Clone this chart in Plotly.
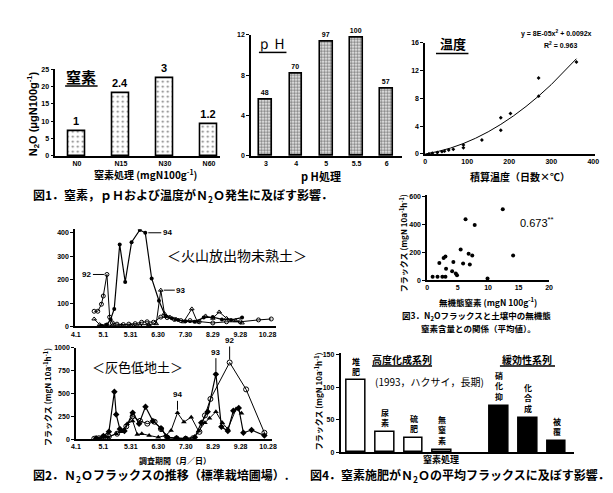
import plotly.graph_objects as go

W, H = 613, 493
def px(x): return x / W
def py(y): return 1 - y / H

JP = "Noto Sans CJK JP"
NUM = "Liberation Sans"

# ---------------- data ----------------
# Fig1 nitrogen
n_cats = ["N0", "N15", "N30", "N60"]
n_vals = [7.2, 18.0, 22.5, 9.2]
n_labels = ["1", "2.4", "3", "1.2"]
# Fig1 pH
ph_cats = ["3", "4", "5", "5.5", "6"]
ph_vals = [5.6, 8.1, 11.3, 11.7, 6.7]
ph_labels = ["48", "70", "97", "100", "57"]
# Fig1 temperature
temp_x = [9, 17, 29, 40, 46, 56, 67, 91, 91, 135, 180, 180, 203, 270, 270, 360]
temp_y = [0.0, 0.1, 0.2, 0.33, 0.4, 0.57, 0.66, 0.9, 1.3, 2.0, 3.4, 5.2, 5.8, 8.3, 10.9, 13.2]
fit_a, fit_b = 8e-05, 0.0092
fit_x = [0, 30, 60, 90, 120, 150, 180, 210, 240, 270, 300, 330, 360]
# Fig3 scatter
s3_x = [0.9, 1.7, 2.5, 3.0, 2.0, 2.7, 3.0, 3.1, 4.3, 4.1, 4.7, 4.9, 5.5, 6.3, 5.9, 6.8, 7.4, 7.0, 7.8, 9.9, 12.4, 14.1]
s3_y = [24, 24, 24, 24, 122, 158, 169, 82, 129, 64, 47, 35, 219, 435, 118, 188, 176, 111, 393, 12, 506, 176]
# Fig2 volcanic soil (day from 4/1)
date_ticks = [0, 30, 60, 90, 120, 150, 180, 210]
date_labels = ["4.1", "5.1", "5.31", "6.30", "7.30", "8.29", "9.28", "10.28"]
v92_d = [20, 24, 28, 30, 34, 37, 40, 45, 52, 58, 65, 72, 78, 85, 93, 100, 108, 115, 125, 135, 150, 165, 180, 200, 214]
v92_v = [65, 65, 95, 130, 222, 40, 15, 10, 8, 10, 12, 18, 20, 18, 40, 38, 30, 25, 25, 20, 15, 20, 20, 28, 32]
v93_d = [20, 26, 32, 40, 50, 60, 70, 80, 88, 93, 97, 103, 110, 118, 127, 133, 142, 150, 157, 165, 175, 182]
v93_v = [32, 8, 5, 5, 5, 5, 5, 8, 12, 155, 55, 40, 30, 20, 75, 20, 45, 35, 62, 35, 25, 15]
v94_d = [28, 34, 38, 42, 48, 54, 61, 70, 76, 83, 91, 98, 105, 112, 120, 130, 140, 150, 160, 170, 182]
v94_v = [3, 8, 30, 75, 350, 190, 360, 412, 400, 205, 110, 45, 35, 28, 22, 20, 38, 40, 30, 28, 38]
# Fig2 gray lowland soil
g92_d = [20, 25, 30, 36, 45, 55, 62, 70, 78, 86, 93, 100, 110, 120, 128, 135, 141, 147, 168, 186, 206]
g92_v = [5, 10, 25, 30, 60, 140, 250, 200, 170, 190, 110, 15, 8, 5, 10, 80, 260, 440, 840, 545, 70]
g93_d = [22, 30, 36, 42, 44, 48, 53, 62, 69, 76, 84, 93, 100, 110, 120, 130, 137, 144, 153, 159, 166, 172, 178, 183, 192, 206]
g93_v = [10, 35, 80, 520, 270, 110, 90, 290, 170, 355, 200, 120, 20, 10, 5, 20, 180, 300, 712, 135, 90, 310, 340, 70, 100, 40]
g94_d = [25, 35, 44, 50, 56, 62, 67, 72, 80, 90, 98, 104, 111, 118, 126, 134, 141, 146, 153, 160, 166, 175, 181]
g94_v = [5, 20, 60, 80, 170, 200, 50, 60, 40, 20, 40, 95, 288, 187, 241, 90, 180, 230, 300, 180, 110, 330, 285]
# Fig4
f4_white_lab = ["堆<br>肥", "尿<br>素", "硫<br>肥", "無<br>窒<br>素"]
f4_white_val = [110, 31.5, 21.5, 3]
f4_black_lab = ["硝<br>化<br>抑", "化<br>合<br>成", "被<br>覆"]
f4_black_val = [71, 53, 17]

fit_y = [fit_a * x * x + fit_b * x for x in fit_x]
white_x = list(range(len(f4_white_val)))
black_x = [len(f4_white_val) + 1 + i for i in range(len(f4_black_val))]

fig = go.Figure()

# Fig1 N bars
fig.add_trace(go.Bar(x=n_cats, y=n_vals, text=n_labels, textposition="outside",
                     textfont=dict(family=NUM, size=11, color="black", weight="bold"),
                     cliponaxis=False, width=0.38,
                     marker=dict(color="white", line=dict(color="black", width=1.6),
                                 pattern=dict(shape=".", fgcolor="black", bgcolor="white", size=5, solidity=0.15)),
                     xaxis="x", yaxis="y"))
# Fig1 pH bars
fig.add_trace(go.Bar(x=ph_cats, y=ph_vals, text=ph_labels, textposition="outside",
                     textfont=dict(family=NUM, size=7, color="black", weight="bold"),
                     cliponaxis=False, width=0.42,
                     marker=dict(color="white", line=dict(color="black", width=1.6),
                                 pattern=dict(shape=".", fgcolor="black", bgcolor="white", size=3, solidity=0.6)),
                     xaxis="x2", yaxis="y2"))
# Fig1 temperature
fig.add_trace(go.Scatter(x=fit_x, y=fit_y, mode="lines", line=dict(color="black", width=1),
                         xaxis="x3", yaxis="y3"))
fig.add_trace(go.Scatter(x=temp_x, y=temp_y, mode="markers",
                         marker=dict(symbol="diamond", size=3, color="black"),
                         xaxis="x3", yaxis="y3"))
# Fig3 scatter
fig.add_trace(go.Scatter(x=s3_x, y=s3_y, mode="markers",
                         marker=dict(symbol="circle", size=4, color="black"),
                         xaxis="x4", yaxis="y4"))
# Fig2 volcanic
fig.add_trace(go.Scatter(x=v92_d, y=v92_v, mode="lines+markers", line=dict(color="black", width=1),
                         marker=dict(symbol="circle-open", size=4, color="black", line=dict(width=1)),
                         xaxis="x5", yaxis="y5"))
fig.add_trace(go.Scatter(x=v93_d, y=v93_v, mode="lines+markers", line=dict(color="black", width=1),
                         marker=dict(symbol="triangle-up-open", size=4, color="black", line=dict(width=1)),
                         xaxis="x5", yaxis="y5"))
fig.add_trace(go.Scatter(x=v94_d, y=v94_v, mode="lines+markers", line=dict(color="black", width=1.2),
                         marker=dict(symbol="circle", size=4, color="black"),
                         xaxis="x5", yaxis="y5"))
# Fig2 gray lowland
fig.add_trace(go.Scatter(x=g92_d, y=g92_v, mode="lines+markers", line=dict(color="black", width=1),
                         marker=dict(symbol="circle-open", size=5, color="black", line=dict(width=1)),
                         xaxis="x6", yaxis="y6"))
fig.add_trace(go.Scatter(x=g93_d, y=g93_v, mode="lines+markers", line=dict(color="black", width=1.2),
                         marker=dict(symbol="diamond", size=5, color="black"),
                         xaxis="x6", yaxis="y6"))
fig.add_trace(go.Scatter(x=g94_d, y=g94_v, mode="lines+markers", line=dict(color="black", width=1),
                         marker=dict(symbol="triangle-up", size=5, color="black"),
                         xaxis="x6", yaxis="y6"))
# Fig4 bars
fig.add_trace(go.Bar(x=white_x, y=f4_white_val, width=0.66,
                     marker=dict(color="white", line=dict(color="black", width=1.5)),
                     xaxis="x7", yaxis="y7"))
fig.add_trace(go.Bar(x=black_x, y=f4_black_val, width=0.66,
                     marker=dict(color="black", line=dict(color="black", width=1.5)),
                     xaxis="x7", yaxis="y7"))

tickf = dict(family=NUM, size=7, color="black", weight="bold")
def ax(domain, rng=None, **kw):
    d = dict(domain=domain, showline=True, linecolor="black", linewidth=1.5,
             showgrid=False, zeroline=False, ticks="outside", ticklen=3,
             tickcolor="black", tickwidth=1, tickfont=tickf, fixedrange=True)
    if rng is not None:
        d["range"] = rng
    d.update(kw)
    return d

layout = dict(
    width=W, height=H, margin=dict(l=0, r=0, t=0, b=0),
    paper_bgcolor="white", plot_bgcolor="white", showlegend=False,
    bargap=0,
    xaxis=ax([px(43), px(210)], [-0.49, 3.24], anchor="y", ticks=""),
    yaxis=ax([py(146), py(58)], [0, 25], anchor="x", tickvals=[0, 5, 10, 15, 20, 25]),
    xaxis2=ax([px(242), px(395)], [-0.49, 4.49], anchor="y2", ticks=""),
    yaxis2=ax([py(146), py(23)], [0, 12], anchor="x2", tickvals=[0, 4, 8, 12]),
    xaxis3=ax([px(419), px(592)], [0, 405], anchor="y3", tickvals=[0, 100, 200, 300, 400], ticks=""),
    yaxis3=ax([py(144), py(31)], [0, 16], anchor="x3", tickvals=[0, 4, 8, 12, 16]),
    xaxis4=ax([px(421), px(545)], [0, 20], anchor="y4", tickvals=[0, 5, 10, 15, 20], ticks=""),
    yaxis4=ax([py(272), py(186)], [0, 605], anchor="x4", tickvals=[0, 200, 400, 600]),
    xaxis5=ax([px(63), px(267)], [-1, 218.8], anchor="y5", tickvals=date_ticks, ticktext=date_labels, ticks=""),
    yaxis5=ax([py(319), py(220.4)], [0, 415], anchor="x5", tickvals=[0, 100, 200, 300, 400]),
    xaxis6=ax([px(64), px(263)], [0, 214], anchor="y6", tickvals=date_ticks, ticktext=date_labels, ticks=""),
    yaxis6=ax([py(433.3), py(340.7)], [0, 1000], anchor="x6", tickvals=[0, 250, 500, 750, 1000]),
    xaxis7=ax([px(333), px(570)], [-0.55, 7.6], anchor="y7", showticklabels=False, ticks=""),
    yaxis7=ax([py(446.7), py(346)], [0, 152], anchor="x7", tickvals=[0, 50, 100, 150]),
)

ann = []
def t(x, y, text, size=10, bold=False, fam=JP, angle=0, xanchor="center", yanchor="middle"):
    ann.append(dict(x=px(x), y=py(y), xref="paper", yref="paper", text=text, showarrow=False,
                    textangle=angle, xanchor=xanchor, yanchor=yanchor,
                    font=dict(family=fam, size=size, color="black", weight="bold" if bold else "normal")))

# Fig1 texts
t(69, 65, "窒素", 15, True)
t(263, 32, "ｐＨ", 15, False, fam="DejaVu Serif")
t(447, 32, "温度", 13, True)
t(20, 103, "N<sub>2</sub>O (μgN100g<sup>-1</sup>)", 11, True, fam=NUM, angle=-90)
t(135, 165, "窒素処理 (mgN100g<sup>-1</sup>)", 10, True)
t(313, 166, "p H処理", 11, True)
t(515, 167, "積算温度（日数×℃）", 10, True)
t(553, 22, "y = 8E-05x<sup>2</sup> + 0.0092x", 7, True, fam=NUM)
t(557, 33, "R<sup>2</sup> = 0.963", 7, True, fam=NUM)
t(18, 186, "図1．窒素，ｐＨおよび温度がＮ<sub>2</sub>Ｏ発生に及ぼす影響．", 12, True, xanchor="left")
# Fig3
t(533, 213, "0.673<sup>**</sup>", 11, False, fam=NUM)
t(397, 235, "フラックス (mgN 10a<sup>-1</sup>h<sup>-1</sup>)", 8, True, angle=-90)
t(483, 294, "無機態窒素 (mgN 100g<sup>-1</sup>)", 8.5, True)
t(393, 308, "図3．N<sub>2</sub>Oフラックスと土壌中の無機態", 8.5, True, xanchor="left")
t(413, 321, "窒素含量との関係（平均値）。", 8.5, True, xanchor="left")
# Fig2
t(228, 247, "＜火山放出物未熟土＞", 14)
t(127, 360, "＜灰色低地土＞", 13)
t(35, 390, "フラックス (mgN 10a<sup>-1</sup>h<sup>-1</sup>)", 8, True, angle=-90)
t(165, 455, "調査期間（月／日）", 8, True)
t(18, 470, "図2．Ｎ<sub>2</sub>Ｏフラックスの推移（標準栽培圃場）.", 12, True, xanchor="left")
# Fig4
t(395, 352, "高度化成系列", 10, True)
t(523, 352, "緩効性系列", 10, True)
t(366, 375, "(1993，ハクサイ，長期)", 10, xanchor="left")
t(310, 395, "フラックス (mgN 10a<sup>-1</sup>h<sup>-1</sup>)", 8, True, angle=-90)
t(435, 454, "窒素処理", 9, True)
t(300, 470, "図4．窒素施肥がＮ<sub>2</sub>Ｏの平均フラックスに及ぼす影響．", 12, True, xanchor="left")

# data-anchored labels
def arrow(xr, yr, x, y, text, axo, ayo):
    ann.append(dict(x=x, y=y, xref=xr, yref=yr, text=text, showarrow=True, ax=axo, ay=ayo,
                    arrowhead=0, arrowwidth=1, arrowcolor="black", standoff=3,
                    font=dict(family=NUM, size=8, color="black", weight="bold")))
arrow("x5", "y5", v92_d[4], v92_v[4], "92", -20, 0)
arrow("x5", "y5", v94_d[8], v94_v[8], "94", 22, 0)
arrow("x5", "y5", v93_d[9], v93_v[9], "93", 20, 0)
arrow("x6", "y6", g94_d[12], g94_v[12], "94", 0, -18)
arrow("x6", "y6", g93_d[18], g93_v[18], "93", 0, -22)
arrow("x6", "y6", g92_d[18], g92_v[18], "92", 0, -22)

for xs, vs, labs in ((white_x, f4_white_val, f4_white_lab), (black_x, f4_black_val, f4_black_lab)):
    for xv, vv, lb in zip(xs, vs, labs):
        ann.append(dict(x=xv, y=vv, xref="x7", yref="y7", text=lb, showarrow=False,
                        yanchor="bottom", yshift=2,
                        font=dict(family=JP, size=8, color="black", weight="bold")))

layout["annotations"] = ann

def uline(x0, x1, y):
    return dict(type="line", xref="paper", yref="paper", x0=px(x0), x1=px(x1), y0=py(y), y1=py(y),
                line=dict(color="black", width=1.5))
layout["shapes"] = [uline(53, 86, 75), uline(250, 278, 41), uline(430, 463, 42),
                    uline(365, 426, 359), uline(495, 551, 359)]

fig.update_layout(**layout)
fig.write_html("out.html")
